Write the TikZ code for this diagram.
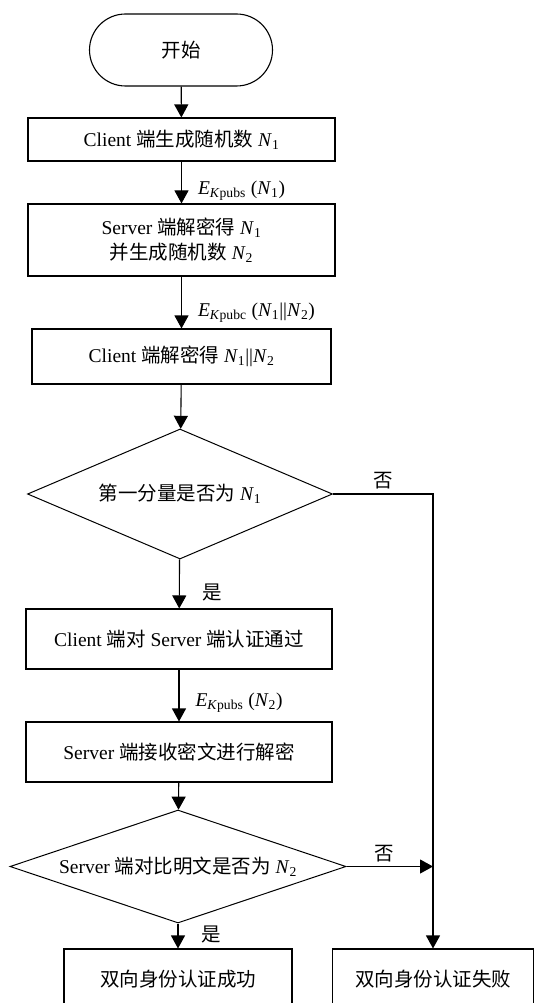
\documentclass[tikz,border=0pt]{standalone}
\usepackage{fontspec}
\setmainfont{Liberation Serif}
\newfontfamily\cjk{Noto Sans CJK SC}
\usetikzlibrary{arrows.meta,shapes.geometric}
\newcommand\zh[1]{{\cjk #1}}
\newcommand\vN[1]{\textit{N}\textsubscript{#1}}
\newcommand\EK[1]{\textit{E}\textsubscript{\textit{K}#1}}
\begin{document}
\begin{tikzpicture}[x=1pt,y=-1pt,
  line width=1.1pt,
  font=\fontsize{19.5}{25}\selectfont,
  every node/.style={inner sep=0pt},
  proc/.style={draw, rectangle, align=center},
  term/.style={draw, rectangle, rounded corners=36pt, minimum width=183pt, minimum height=72pt},
  decide/.style={draw, diamond, line width=1pt},
  arr/.style={-{Triangle[width=14pt,length=13pt]}},
  elabel/.style={anchor=west, xshift=16pt},
  ylabel/.style={anchor=west, xshift=23pt},
  nlabel/.style={anchor=south, yshift=4pt}]
\useasboundingbox (0,0) rectangle (535,1003);
\clip (0,0) rectangle (535,1003);

% process steps
\node[term] (start) at (181,50) {\zh{开始}};
\node[proc, minimum width=307pt, minimum height=43pt] (b1) at (181.5,139.5)
  {Client \zh{端生成随机数} \vN1};
\node[proc, minimum width=307pt, minimum height=72pt] (b2) at (181.5,240)
  {Server \zh{端解密得} \vN1\\\zh{并生成随机数} \vN2};
\node[proc, minimum width=299pt, minimum height=55pt] (b3) at (181.5,356.5)
  {Client \zh{端解密得} \vN1||\vN2};
\node[decide, minimum width=305pt, minimum height=130pt, shape aspect=2.35] (d1) at (180,494)
  {\zh{第一分量是否为} \vN1};
\node[proc, minimum width=306pt, minimum height=60pt] (b4) at (179,639)
  {Client \zh{端对} Server \zh{端认证通过}};
\node[proc, minimum width=306pt, minimum height=60pt] (b5) at (179,752)
  {Server \zh{端接收密文进行解密}};
\node[decide, minimum width=336pt, minimum height=113pt, shape aspect=3] (d2) at (178,866.5)
  {Server \zh{端对比明文是否为} \vN2};
\node[proc, minimum width=228pt, minimum height=60pt] (b6) at (178,979)
  {\zh{双向身份认证成功}};
\node[proc, minimum width=201pt, minimum height=60pt] (b7) at (433,979)
  {\zh{双向身份认证失败}};

% main flow
\draw[arr] (start) -- (b1);
\draw[arr] (b1) -- node[elabel, pos=0.7] {\EK{pubs} (\vN1)} (b2);
\draw[arr] (b2) -- node[elabel, pos=0.7] {\EK{pubc} (\vN1||\vN2)} (b3);
\draw[arr] (b3) -- (d1);
\draw[arr] (d1) -- node[ylabel, pos=0.68] {\zh{是}} (b4);
\draw[arr] (b4) -- node[elabel, pos=0.64] {\EK{pubs} (\vN2)} (b5);
\draw[arr] (b5) -- (d2);
\draw[arr] (d2) -- node[ylabel, pos=0.46] {\zh{是}} (b6);

% failure branches
\coordinate (m) at (d2.east -| b7.north);
\draw[arr] (d1.east) -- node[nlabel, pos=0.5] {\zh{否}} (d1.east -| b7.north) -- (b7.north);
\draw[arr] (d2.east) -- node[nlabel, pos=0.44] {\zh{否}} (m);
\end{tikzpicture}
\end{document}
